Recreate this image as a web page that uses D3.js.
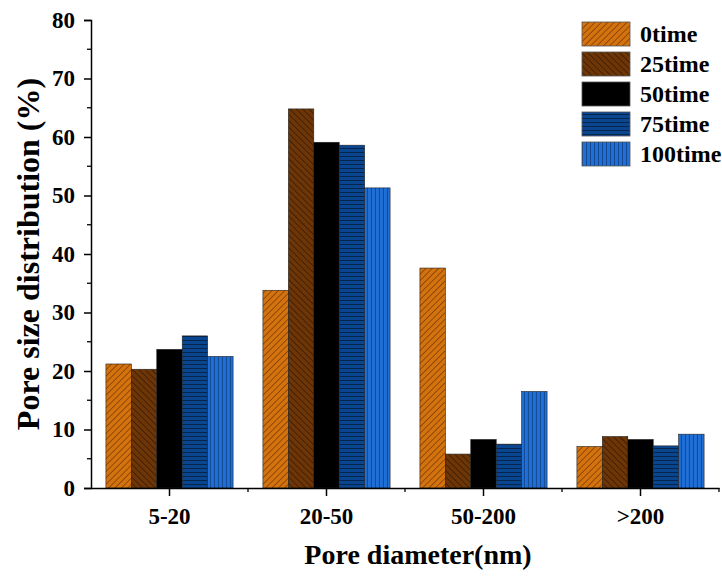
<!DOCTYPE html>
<html>
<head>
<meta charset="utf-8">
<script src="https://cdn.jsdelivr.net/npm/d3@7/dist/d3.min.js"></script>
<style>
  body { margin: 0; background: #fff; }
  text { font-family: "Liberation Serif", "Times New Roman", serif; font-weight: bold; }
</style>
</head>
<body>
<div id="chart"></div>
<script>
// pore size distribution
var categories = ['5-20', '20-50', '50-200', '>200'];
var seriesNames = ['0time', '25time', '50time', '75time', '100time'];
var t0   = [21.2, 33.8, 37.6, 7.1];
var t25  = [20.3, 64.8, 5.8, 8.8];
var t50  = [23.7, 59.1, 8.3, 8.3];
var t75  = [26.0, 58.6, 7.5, 7.2];
var t100 = [22.5, 51.3, 16.5, 9.2];
var yTicks = [0, 10, 20, 30, 40, 50, 60, 70, 80];

var values = [t0, t25, t50, t75, t100];

var width = 722, height = 579;
var margin = {left: 91, right: 3, top: 20, bottom: 91};

var svg = d3.select('#chart').append('svg')
    .attr('width', width)
    .attr('height', height);

// fill patterns for each series
var defs = svg.append('defs');
function hatch(id, bg, lineColor, angle, gap, lw) {
    var p = defs.append('pattern')
        .attr('id', id)
        .attr('patternUnits', 'userSpaceOnUse')
        .attr('width', gap).attr('height', gap)
        .attr('patternTransform', 'rotate(' + angle + ')');
    p.append('rect').attr('width', gap).attr('height', gap).attr('fill', bg);
    if (lineColor) {
        p.append('line')
            .attr('x1', 0).attr('y1', 0).attr('x2', 0).attr('y2', gap)
            .attr('stroke', lineColor).attr('stroke-width', lw);
    }
}
hatch('p0', '#d4720e', '#6a3405', 45, 4.5, 1.3);
hatch('p1', '#6e3606', '#2e1502', -45, 4.5, 1.3);
hatch('p2', '#000000', null, 0, 4, 1);
hatch('p3', '#0a4690', '#03162e', 90, 4, 1.4);
hatch('p4', '#1f6fd6', '#0b2f63', 0, 4, 1.2);
var fills = ['url(#p0)', 'url(#p1)', 'url(#p2)', 'url(#p3)', 'url(#p4)'];

var x = d3.scaleBand()
    .domain(categories)
    .range([margin.left, width - margin.right])
    .paddingInner(0.19)
    .paddingOuter(0.095);

var y = d3.scaleLinear()
    .domain([0, 80])
    .range([height - margin.bottom, margin.top]);

var xs = d3.scaleBand()
    .domain(seriesNames)
    .range([0, x.bandwidth()]);

// bars
categories.forEach(function (c, ci) {
    var g = svg.append('g').attr('transform', 'translate(' + x(c) + ',0)');
    seriesNames.forEach(function (s, si) {
        var v = values[si][ci];
        g.append('rect')
            .attr('x', xs(s))
            .attr('y', y(v))
            .attr('width', xs.bandwidth())
            .attr('height', y(0) - y(v))
            .attr('fill', fills[si])
            .attr('stroke', '#222')
            .attr('stroke-width', 0.6);
    });
});

// y axis
var yAxis = d3.axisLeft(y).tickValues(yTicks).tickSize(7).tickPadding(9);
var gy = svg.append('g')
    .attr('transform', 'translate(' + margin.left + ',0)')
    .call(yAxis);
gy.select('.domain').attr('stroke', '#000').attr('stroke-width', 1.5);
gy.selectAll('.tick line').attr('stroke-width', 1.5);
gy.selectAll('.tick text').attr('font-size', 23).attr('fill', '#000');
// minor ticks
gy.selectAll('.minor')
    .data([5, 15, 25, 35, 45, 55, 65, 75])
    .enter().append('line')
    .attr('x1', 0).attr('x2', -4)
    .attr('y1', function (d) { return y(d); })
    .attr('y2', function (d) { return y(d); })
    .attr('stroke', '#000').attr('stroke-width', 1.3);

// x axis
var xAxis = d3.axisBottom(x).tickSize(8).tickPadding(12).tickSizeOuter(0);
var gx = svg.append('g')
    .attr('transform', 'translate(0,' + y(0) + ')')
    .call(xAxis);
gx.select('.domain').attr('stroke', '#000').attr('stroke-width', 1.5);
gx.selectAll('.tick line').attr('stroke-width', 1.5);
gx.selectAll('.tick text').attr('font-size', 23).attr('fill', '#000');
var step = x.step();
gx.selectAll('.minorx')
    .data(categories)
    .enter().append('line')
    .attr('x1', function (d) { return x(d) + x.bandwidth() / 2 + step / 2; })
    .attr('x2', function (d) { return x(d) + x.bandwidth() / 2 + step / 2; })
    .attr('y1', 0).attr('y2', 4)
    .attr('stroke', '#000').attr('stroke-width', 1.3);

// axis titles
svg.append('text')
    .attr('x', 418)
    .attr('y', 564)
    .attr('text-anchor', 'middle')
    .attr('font-size', 28)
    .text('Pore diameter(nm)');

svg.append('text')
    .attr('transform', 'translate(39,' + (y(40)) + ') rotate(-90)')
    .attr('text-anchor', 'middle')
    .attr('font-size', 32)
    .text('Pore size distribution (%)');

// legend
var legend = svg.append('g').attr('transform', 'translate(582,22)');
seriesNames.forEach(function (s, i) {
    legend.append('rect')
        .attr('x', 0).attr('y', i * 30)
        .attr('width', 48).attr('height', 24)
        .attr('fill', fills[i])
        .attr('stroke', '#555').attr('stroke-width', 0.8);
    legend.append('text')
        .attr('x', 58).attr('y', i * 30 + 20)
        .attr('font-size', 24)
        .text(s);
});
</script>
</body>
</html>
